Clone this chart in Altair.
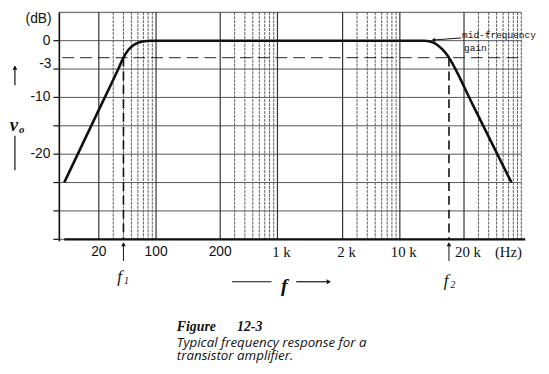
import altair as alt
import pandas as pd

# ---------------- data ----------------
# response curve (Hz, dB)
freq_hz = [10.9, 20, 34.8, 40, 46, 52.8, 60.7, 71.7, 84.7, 200, 1000, 13000,
           14000, 15000, 15800, 16500, 17000, 25000, 76000]
gain_db = [-25, -12.2, -4.9, -3.0, -1.6, -0.8, -0.35, -0.1, 0, 0, 0, 0,
           -0.2, -0.75, -1.5, -2.3, -3.0, -11.0, -25]

f1_hz = 40
f2_hz = 17000
half_power_db = -3

major_f = [20, 100, 200, 1000, 2000, 10000, 20000]
major_lbl = ["20", "100", "200", "1 k", "2 k", "10 k", "20 k"]
minor_f = [30, 40, 50, 60, 70, 80, 90,
           300, 400, 500, 600, 700, 800, 900,
           3000, 4000, 5000, 6000, 7000, 8000, 9000,
           30000, 40000, 50000, 60000, 70000, 80000, 90000, 100000]

y_grid = [5, 0, -5, -10, -15, -20, -25, -30, -35]
y_labelled = [0, -10, -20]
y_lbl = ["0", "-10", "-20"]

# ---------------- scales ----------------
W, H = 468, 230
# the drawing's frequency paper: log cycles joined piecewise
x_breaks = [10, 20, 100, 200, 1000, 2000, 10000, 20000, 100000]
x_break_pos = [0, 40, 98, 163, 221, 287, 345, 410, 468]
xs = alt.Scale(type="log", domain=x_breaks, range=x_break_pos, nice=False)
ys = alt.Scale(domain=[-35, 5], nice=False, zero=False)

BLACK = "#111111"
X = lambda f="f": alt.X(f"{f}:Q", scale=xs, axis=None)
Y = lambda f="y": alt.Y(f"{f}:Q", scale=ys, axis=None)

curve_df = pd.DataFrame({"f": freq_hz, "db": gain_db})

hgrid = alt.Chart(pd.DataFrame({"y": y_grid})).mark_rule(
    color="#555555", strokeWidth=1).encode(y=Y(), x=alt.value(0), x2=alt.value(W))

yticks = alt.Chart(pd.DataFrame({"y": y_grid[1:]})).mark_rule(
    color=BLACK, strokeWidth=1.2).encode(y=Y(), x=alt.value(-6), x2=alt.value(0))

vminor = alt.Chart(pd.DataFrame({"f": minor_f})).mark_rule(
    color="#5a5a5a", strokeWidth=1, strokeDash=[3, 1]).encode(
    x=X(), y=alt.value(0), y2=alt.value(H))

vmajor = alt.Chart(pd.DataFrame({"f": major_f})).mark_rule(
    color="#333333", strokeWidth=1.2).encode(x=X(), y=alt.value(0), y2=alt.value(H))

# axis lines
yaxis = alt.Chart(pd.DataFrame({"a": [0]})).mark_rule(
    color=BLACK, strokeWidth=1.6).encode(x=alt.value(0), y=alt.value(0), y2=alt.value(H + 2))
xaxis = alt.Chart(pd.DataFrame({"y": [-35]})).mark_rule(
    color=BLACK, strokeWidth=2.2).encode(y=Y(), x=alt.value(5), x2=alt.value(W + 4))

hdash = alt.Chart(pd.DataFrame({"y": [half_power_db]})).mark_rule(
    color="#222222", strokeWidth=1, strokeDash=[12, 6]).encode(
    y=Y(), x=alt.value(3), x2=alt.value(W))

vdash = alt.Chart(pd.DataFrame({"f": [f1_hz, f2_hz], "y": [half_power_db] * 2,
                                "y2": [-35, -35]})).mark_rule(
    color=BLACK, strokeWidth=1.6, strokeDash=[9, 5]).encode(
    x=X(), y=Y(), y2="y2:Q")

curve = alt.Chart(curve_df).mark_line(
    color=BLACK, strokeWidth=2.6, interpolate="monotone").encode(x=X(), y=Y("db"))

# tick labels
lab_df = pd.DataFrame({"f": major_f, "t": major_lbl})
xlab_sans = alt.Chart(lab_df[lab_df.f < 1000]).mark_text(
    font="Liberation Sans", fontSize=14, color=BLACK, baseline="middle").encode(
    x=X(), y=alt.value(243), text="t:N")
xlab_serif = alt.Chart(lab_df[lab_df.f >= 1000]).mark_text(
    font="Liberation Serif", fontSize=15, color=BLACK, baseline="middle", dx=4).encode(
    x=X(), y=alt.value(243), text="t:N")
ylab = alt.Chart(pd.DataFrame({"y": y_labelled, "t": y_lbl})).mark_text(
    font="Liberation Sans", fontSize=14, color=BLACK, align="right",
    baseline="middle").encode(y=Y(), x=alt.value(-9), text="t:N")


def txt(text, x, y, size=12, font="Liberation Sans", style="normal",
        weight="normal", align="center", baseline="middle"):
    return alt.Chart(pd.DataFrame({"t": [text]})).mark_text(
        text=text, fontSize=size, font=font, fontStyle=style,
        fontWeight=weight, align=align, baseline=baseline, color=BLACK
    ).encode(x=alt.value(x), y=alt.value(y))


def seg(x1, y1, x2, y2, w=1.2):
    return alt.Chart(pd.DataFrame({"a": [0]})).mark_rule(
        color=BLACK, strokeWidth=w).encode(
        x=alt.value(x1), y=alt.value(y1), x2=alt.value(x2), y2=alt.value(y2))


def head(x, y, shape, size=28):
    return alt.Chart(pd.DataFrame({"a": [0]})).mark_point(
        shape=shape, filled=True, size=size, color=BLACK, opacity=1).encode(
        x=alt.value(x), y=alt.value(y))


# f1 / f2 markers (in frequency coordinates)
fmark = pd.DataFrame({"f": [f1_hz, f2_hz]})
farrow = alt.Chart(fmark).mark_rule(color=BLACK, strokeWidth=1).encode(
    x=X(), y=alt.value(234), y2=alt.value(252))
fhead = alt.Chart(fmark).mark_point(
    shape="triangle-up", filled=True, size=22, color=BLACK, opacity=1).encode(
    x=X(), y=alt.value(235))
f1_t = alt.Chart(pd.DataFrame({"f": [f1_hz]})).mark_text(
    text="f", font="Liberation Serif", fontStyle="italic", fontSize=17,
    dx=-4, color=BLACK).encode(x=X(), y=alt.value(268))
f1_s = alt.Chart(pd.DataFrame({"f": [f1_hz]})).mark_text(
    text="1", font="Liberation Serif", fontStyle="italic", fontSize=10,
    dx=3, color=BLACK).encode(x=X(), y=alt.value(272))
f2_t = alt.Chart(pd.DataFrame({"f": [f2_hz]})).mark_text(
    text="f", font="Liberation Serif", fontStyle="italic", fontSize=17,
    dx=-3, color=BLACK).encode(x=X(), y=alt.value(272))
f2_s = alt.Chart(pd.DataFrame({"f": [f2_hz]})).mark_text(
    text="2", font="Liberation Serif", fontStyle="italic", fontSize=10,
    dx=4, color=BLACK).encode(x=X(), y=alt.value(276))

ann = [
    txt("(dB)", -21, 7, size=14),
    txt("-3", -8, 52, size=14, align="right"),
    # v_o with arrow
    seg(-45, 74, -45, 55, 1.2), head(-45, 56, "triangle-up", 24),
    txt("v", -46, 114, size=19, font="Liberation Serif", style="italic", weight="bold"),
    txt("o", -38, 119, size=11, font="Liberation Serif", style="italic", weight="bold"),
    seg(-45, 125, -45, 160, 1.2),
    # (Hz)
    txt("(Hz)", 455, 243, size=15, font="Liberation Serif"),
    # f axis arrow
    seg(175, 273, 215, 273, 1.2),
    txt("f", 228, 277, size=20, font="Liberation Serif", style="italic", weight="bold"),
    seg(240, 273, 271, 273, 1.2), head(273, 273, "triangle-right", 24),
    # mid-frequency gain
    txt("mid-frequency", 408, 23, size=9.6, font="Liberation Mono", align="left"),
    txt("gain", 410, 36, size=9.6, font="Liberation Mono", align="left"),
    seg(380, 28, 407, 26, 1), head(379, 28, "triangle-left", 18),
    # caption
    txt("Figure", 119, 323, size=14, font="Liberation Serif", style="italic",
        weight="bold", align="left", baseline="alphabetic"),
    txt("12-3", 180, 323, size=14, font="Liberation Serif", style="italic",
        weight="bold", align="left", baseline="alphabetic"),
    txt("Typical frequency response for a", 119, 339, size=13.5, font="Open Sans",
        style="italic", align="left", baseline="alphabetic"),
    txt("transistor  amplifier.", 119, 352, size=13.5, font="Open Sans",
        style="italic", align="left", baseline="alphabetic"),
]

chart = alt.layer(hgrid, vminor, vmajor, yticks, hdash, vdash, yaxis, xaxis, curve,
                  xlab_sans, xlab_serif, ylab,
                  farrow, fhead, f1_t, f1_s, f2_t, f2_s, *ann).properties(
    width=W, height=H,
    autosize=alt.AutoSizeParams(type="none"),
    padding={"left": 52, "top": 2, "right": 20, "bottom": 125},
).configure_view(stroke=None).configure(background="white")

chart.save("out.html", embed_options={"renderer": "svg", "actions": False})
